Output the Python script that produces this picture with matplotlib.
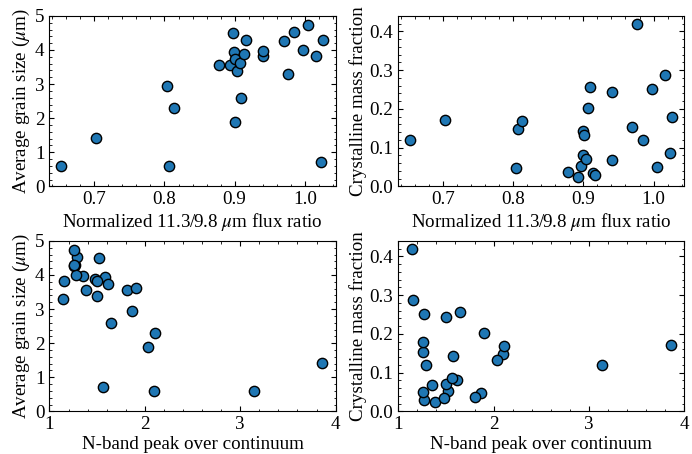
import matplotlib
matplotlib.use('Agg')
import matplotlib.pyplot as plt
from matplotlib.ticker import MultipleLocator

# one entry per source
flux_ratio = [0.653, 0.703, 0.807, 0.804, 0.813, 0.878, 0.893, 0.897, 0.899, 0.900,
              0.901, 0.904, 0.907, 0.909, 0.913, 0.916, 0.941, 0.941, 0.970, 0.976,
              0.985, 0.998, 1.005, 1.016, 1.023, 1.026]
peak_cont = [3.14, 3.86, 2.094, 1.864, 2.105, 1.808, 1.381, 1.517, 1.577, 1.612,
             2.031, 1.503, 1.902, 1.647, 1.479, 1.265, 1.503, 1.350, 1.255, 1.147,
             1.290, 1.273, 1.262, 1.157, 1.559, 1.259]
grain_size = [0.60, 1.41, 0.60, 2.95, 2.31, 3.56, 3.56, 4.51, 3.94, 3.74,
              1.90, 3.37, 3.62, 2.60, 3.87, 4.29, 3.82, 3.97, 4.26, 3.30,
              4.53, 4.00, 4.73, 3.83, 0.70, 4.28]
cryst_frac = [0.120, 0.172, 0.148, 0.047, 0.168, 0.038, 0.025, 0.052, 0.144, 0.080,
              0.133, 0.070, 0.203, 0.257, 0.035, 0.030, 0.243, 0.068, 0.152, 0.420,
              0.119, 0.252, 0.050, 0.287, 0.085, 0.179]

plt.rcParams['font.family'] = ['Liberation Serif', 'DejaVu Serif']
plt.rcParams['mathtext.fontset'] = 'stix'
plt.rcParams['font.size'] = 13.7
plt.rcParams['xtick.direction'] = 'in'
plt.rcParams['ytick.direction'] = 'in'
plt.rcParams['xtick.top'] = True
plt.rcParams['ytick.right'] = True
plt.rcParams['xtick.minor.visible'] = True
plt.rcParams['ytick.minor.visible'] = True
plt.rcParams['xtick.major.size'] = 3.5
plt.rcParams['ytick.major.size'] = 3.5
plt.rcParams['xtick.minor.size'] = 1.8
plt.rcParams['ytick.minor.size'] = 1.8

fig, axes = plt.subplots(2, 2, figsize=(6.92, 4.54), dpi=100)
fig.subplots_adjust(left=0.0715, right=0.989, bottom=0.094, top=0.965, wspace=0.219, hspace=0.32)

xlab_ratio = r'Normalized 11.3/9.8 $\mu$m flux ratio'
xlab_peak = 'N-band peak over continuum'
ylab_size = r'Average grain size ($\mu$m)'
ylab_cryst = 'Crystalline mass fraction'

panels = [
    (axes[0, 0], flux_ratio, grain_size, xlab_ratio, ylab_size),
    (axes[0, 1], flux_ratio, cryst_frac, xlab_ratio, ylab_cryst),
    (axes[1, 0], peak_cont, grain_size, xlab_peak, ylab_size),
    (axes[1, 1], peak_cont, cryst_frac, xlab_peak, ylab_cryst),
]
for ax, xs, ys, xl, yl in panels:
    ax.scatter(xs, ys, s=55, color='#1f77b4', edgecolor='black', linewidth=1, zorder=3)
    ax.set_xlabel(xl, labelpad=2)
    ax.set_ylabel(yl, labelpad=2)

for ax in axes[0]:
    ax.set_xlim(0.636, 1.044)
    ax.xaxis.set_major_locator(MultipleLocator(0.1))
    ax.xaxis.set_minor_locator(MultipleLocator(0.02))
for ax in axes[1]:
    ax.set_xlim(1, 4)
    ax.xaxis.set_major_locator(MultipleLocator(1))
    ax.xaxis.set_minor_locator(MultipleLocator(0.2))
for ax in axes[:, 0]:
    ax.set_ylim(0, 5)
    ax.yaxis.set_major_locator(MultipleLocator(1))
    ax.yaxis.set_minor_locator(MultipleLocator(0.2))
for ax in axes[:, 1]:
    ax.set_ylim(0, 0.44)
    ax.yaxis.set_major_locator(MultipleLocator(0.1))
    ax.yaxis.set_minor_locator(MultipleLocator(0.02))

fig.savefig('out.png', dpi=100)
